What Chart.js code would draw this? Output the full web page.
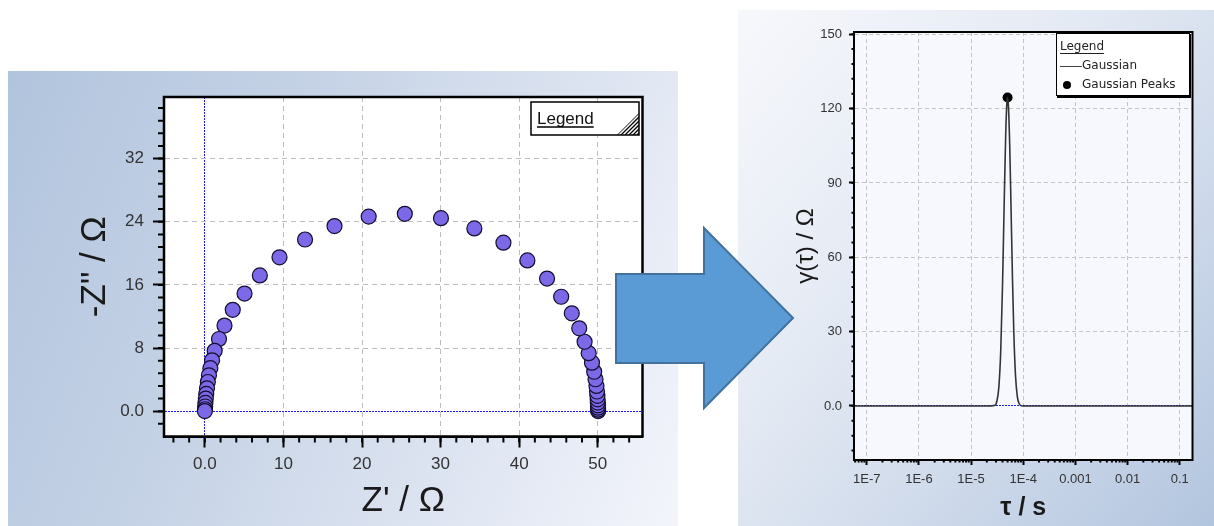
<!DOCTYPE html>
<html>
<head>
<meta charset="utf-8">
<title>Nyquist plot to DRT</title>
<script src="https://cdn.jsdelivr.net/npm/chart.js@4.4.1/dist/chart.umd.min.js"></script>
<style>
  html, body { margin: 0; padding: 0; background: #fff; }
  body { width: 1214px; height: 526px; position: relative; overflow: hidden; }
  .panel { position: absolute; }
  .panel canvas { display: block; }
  #leftPanel {
    left: 8px; top: 71px; width: 670px; height: 455px;
    background: linear-gradient(112deg, #b1c4dd 0%, #c6d3e6 38%, #dde4f1 70%, #f3f5fb 100%);
  }
  #rightPanel {
    left: 738px; top: 10px; width: 476px; height: 516px;
    background: linear-gradient(130deg, #f7f8fc 0%, #e3e9f3 40%, #c8d5e8 75%, #b2c5de 100%);
  }
  #arrow { position: absolute; left: 0; top: 0; pointer-events: none; }
</style>
</head>
<body>
<div class="panel" id="leftPanel"><canvas id="nyquist" width="670" height="455"></canvas></div>
<div class="panel" id="rightPanel"><canvas id="drt" width="476" height="516"></canvas></div>
<svg id="arrow" width="1214" height="526">
  <polygon points="616,274 704,274 704,228 793,318 704,408 704,363 616,363"
           fill="#5b9bd5" stroke="#41719c" stroke-width="2" stroke-linejoin="miter"/>
</svg>
<script>
// ---- Nyquist plot (left) ----
const zReal = [50.05, 50.05, 50.04, 50.03, 50.01, 49.99, 49.96, 49.91, 49.84, 49.72, 49.55, 49.27, 48.85, 48.33, 47.65, 46.7,
  45.35, 43.55, 41.05, 38.0, 34.3, 30.05, 25.45, 20.85, 16.5, 12.75, 9.5, 7.0, 5.05, 3.55, 2.5, 1.8, 1.25, 0.92,
  0.7, 0.52, 0.38, 0.27, 0.18, 0.12, 0.07, 0.04, 0.02, 0.0];
const zImag = [0.02, 0.2, 0.45, 0.75, 1.1, 1.5, 1.95, 2.5, 3.2, 4.05, 5.0, 6.15, 7.35, 8.8, 10.5, 12.4,
  14.5, 16.8, 19.1, 21.35, 23.15, 24.45, 25.0, 24.65, 23.45, 21.75, 19.5, 17.2, 14.9, 12.85, 10.85, 9.15, 7.65, 6.45,
  5.45, 4.55, 3.7, 2.9, 2.2, 1.6, 1.05, 0.6, 0.25, 0.02];
const zReTicks = [0, 10, 20, 30, 40, 50];
const zReLabels = ['0.0', '10', '20', '30', '40', '50'];
const zImTicks = [0, 8, 16, 24, 32];
const zImLabels = ['0.0', '8', '16', '24', '32'];

// ---- DRT (right) ----
const tau = [5e-8, 2.0e-5, 2.8e-5, 3.1e-5, 3.4e-5, 3.7e-5, 4.0e-5, 4.3e-5, 4.6e-5, 4.85e-5, 5.0e-5, 5.2e-5,
  5.5e-5, 5.8e-5, 6.2e-5, 6.6e-5, 7.1e-5, 7.7e-5, 8.4e-5, 9.5e-5, 1.3e-4, 0.2];
const gamma = [0, 0, 0.2, 1.7, 7.5, 22.4, 48.5, 81, 109.2, 122.3, 124.5, 120.9,
  104.8, 82.1, 51.9, 29.0, 12.2, 3.7, 0.8, 0, 0, 0];
const peakTau = [5.0e-5];
const peakGamma = [124.5];
const tauTicks = [1e-7, 1e-6, 1e-5, 1e-4, 1e-3, 1e-2, 1e-1];
const tauLabels = ['1E-7', '1E-6', '1E-5', '1E-4', '0.001', '0.01', '0.1'];
const gammaTicks = [0, 30, 60, 90, 120, 150];
const gammaLabels = ['0.0', '30', '60', '90', '120', '150'];

Chart.defaults.font.family = "'Liberation Sans', Arial, sans-serif";
Chart.defaults.animation = false;

function steps(from, to, step) {
  const out = [];
  for (let v = from; v <= to + 1e-9; v += step) out.push(+v.toFixed(4));
  return out;
}
const logMinor = [];
for (let e = -8; e <= -1; e++) for (let k = 2; k <= 9; k++) logMinor.push(k * Math.pow(10, e));

function drawMinor(ctx, scale, values, len, width) {
  const a = scale.chart.chartArea;
  ctx.save();
  ctx.strokeStyle = '#000';
  ctx.lineWidth = width;
  ctx.beginPath();
  values.forEach(v => {
    if (v < scale.min || v > scale.max) return;
    const p = scale.getPixelForValue(v);
    if (scale.isHorizontal()) { ctx.moveTo(p, a.bottom); ctx.lineTo(p, a.bottom + len); }
    else { ctx.moveTo(a.left, p); ctx.lineTo(a.left - len, p); }
  });
  ctx.stroke();
  ctx.restore();
}

// plot background, frame and minor ticks
function makeFrame(cfg) {
  return {
    id: 'frame',
    beforeDraw(chart) {
      const a = chart.chartArea, ctx = chart.ctx;
      ctx.save();
      ctx.fillStyle = cfg.bg;
      ctx.fillRect(a.left, a.top, a.right - a.left, a.bottom - a.top);
      ctx.restore();
    },
    afterDraw(chart) {
      const a = chart.chartArea, ctx = chart.ctx;
      drawMinor(ctx, chart.scales.x, cfg.minorX, cfg.minorLen, cfg.minorWidth);
      drawMinor(ctx, chart.scales.y, cfg.minorY, cfg.minorLen, cfg.minorWidth);
      ctx.save();
      ctx.strokeStyle = '#000';
      ctx.lineWidth = cfg.frameWidth;
      ctx.strokeRect(a.left, a.top, a.right - a.left, a.bottom - a.top);
      ctx.restore();
      cfg.legend(ctx, chart);
    }
  };
}

// zero lines are blue and dotted, the rest grey dashed
function gridColor(ctx) {
  return ctx.tick && ctx.tick.value === 0 ? '#1a1aff' : '#bcbcbc';
}
function gridDash(ctx) {
  return ctx.tick && ctx.tick.value === 0 ? [2, 1] : [5, 4];
}

// left legend box with hatched corner
function nyquistLegend(ctx) {
  ctx.save();
  ctx.fillStyle = '#fff';
  ctx.fillRect(523, 31, 108, 33);
  ctx.strokeStyle = '#000';
  ctx.lineWidth = 1.5;
  ctx.strokeRect(523, 31, 108, 33);
  ctx.fillStyle = '#111';
  ctx.font = "17px 'Liberation Sans', Arial, sans-serif";
  ctx.textBaseline = 'middle';
  ctx.fillText('Legend', 529, 48);
  const w = ctx.measureText('Legend').width;
  ctx.lineWidth = 1.5;
  ctx.beginPath(); ctx.moveTo(529, 56); ctx.lineTo(529 + w, 56); ctx.stroke();
  ctx.beginPath();
  ctx.moveTo(609, 64); ctx.lineTo(631, 64); ctx.lineTo(631, 42); ctx.closePath();
  ctx.save(); ctx.clip();
  ctx.lineWidth = 1.3;
  ctx.beginPath();
  for (let k = 0; k < 8; k++) { ctx.moveTo(607 + k * 4, 66); ctx.lineTo(633, 40 + k * 4); }
  ctx.stroke();
  ctx.restore();
  ctx.restore();
}

// right legend box
function drtLegend(ctx, chart) {
  const ds = chart.data.datasets;
  ctx.save();
  ctx.fillStyle = '#fff';
  ctx.fillRect(318, 23, 134, 63);
  ctx.strokeStyle = '#000';
  ctx.lineWidth = 1;
  ctx.strokeRect(318.5, 23.5, 133, 62);
  ctx.lineWidth = 2;
  ctx.beginPath(); ctx.moveTo(452, 24); ctx.lineTo(452, 87); ctx.lineTo(319, 87); ctx.stroke();
  ctx.fillStyle = '#222';
  ctx.font = "12px 'DejaVu Sans', sans-serif";
  ctx.textBaseline = 'middle';
  ctx.fillText('Legend', 322, 37);
  const w = ctx.measureText('Legend').width;
  ctx.lineWidth = 1;
  ctx.strokeStyle = '#222';
  ctx.beginPath(); ctx.moveTo(322, 43.5); ctx.lineTo(322 + w, 43.5); ctx.stroke();
  ctx.strokeStyle = '#444';
  ctx.beginPath(); ctx.moveTo(322, 56.5); ctx.lineTo(344, 56.5); ctx.stroke();
  ctx.fillText(ds[0].label, 344, 56);
  ctx.fillStyle = '#000';
  ctx.beginPath(); ctx.arc(329, 75, 4, 0, Math.PI * 2); ctx.fill();
  ctx.fillStyle = '#222';
  ctx.fillText(ds[1].label, 344, 75);
  ctx.restore();
}

new Chart(document.getElementById('nyquist'), {
  type: 'scatter',
  data: {
    datasets: [{
      label: 'Data',
      data: zReal.map((x, i) => ({ x: x, y: zImag[i] })),
      pointRadius: 7.5,
      pointBackgroundColor: '#7b69e8',
      pointBorderColor: '#140e30',
      pointBorderWidth: 1.2
    }]
  },
  options: {
    responsive: false,
    layout: { padding: { left: 0, top: 26, right: 35.5, bottom: 0 } },
    plugins: { legend: { display: false }, tooltip: { enabled: false } },
    scales: {
      x: {
        type: 'linear',
        min: -5.2,
        max: 55.7,
        afterBuildTicks: s => { s.ticks = zReTicks.map(v => ({ value: v })); },
        afterFit: s => { s.height = 89.5; },
        ticks: {
          callback: (v, i) => zReLabels[i],
          font: { size: 17 },
          color: '#333',
          padding: 7,
          maxRotation: 0,
          autoSkip: false
        },
        grid: { color: gridColor, lineWidth: 1, tickLength: 11, tickWidth: 2, tickColor: '#000' },
        border: { display: true, color: '#000', width: 2, dash: gridDash },
        title: { display: true, text: "Z' / Ω", font: { size: 35 }, color: '#1a1a1a', padding: { top: 0, bottom: 4 } }
      },
      y: {
        type: 'linear',
        min: -3.2,
        max: 39.8,
        afterBuildTicks: s => { s.ticks = zImTicks.map(v => ({ value: v })); },
        afterFit: s => { s.width = 156; },
        ticks: {
          callback: (v, i) => zImLabels[i],
          font: { size: 17 },
          color: '#333',
          padding: 9,
          autoSkip: false
        },
        grid: { color: gridColor, lineWidth: 1, tickLength: 11, tickWidth: 2, tickColor: '#000' },
        border: { display: true, color: '#000', width: 2, dash: gridDash },
        title: { display: true, text: '-Z" / Ω', font: { size: 35 }, color: '#1a1a1a', padding: { top: 66, bottom: 0 } }
      }
    }
  },
  plugins: [makeFrame({
    bg: '#ffffff',
    minorX: steps(-4, 54, 2),
    minorY: steps(-1.6, 38.4, 1.6),
    minorLen: 6,
    minorWidth: 2,
    frameWidth: 2.5,
    legend: nyquistLegend
  })]
});

new Chart(document.getElementById('drt'), {
  type: 'scatter',
  data: {
    datasets: [{
      label: 'Gaussian',
      data: tau.map((t, i) => ({ x: t, y: gamma[i] })),
      showLine: true,
      pointRadius: 0,
      borderColor: '#333',
      borderWidth: 1.6,
      cubicInterpolationMode: 'monotone'
    }, {
      label: 'Gaussian Peaks',
      data: peakTau.map((t, i) => ({ x: t, y: peakGamma[i] })),
      pointRadius: 5,
      pointBackgroundColor: '#000',
      pointBorderColor: '#000',
      pointBorderWidth: 0
    }]
  },
  options: {
    responsive: false,
    layout: { padding: { left: 0, top: 22, right: 21.5, bottom: 0 } },
    plugins: { legend: { display: false }, tooltip: { enabled: false } },
    scales: {
      x: {
        type: 'logarithmic',
        min: 5.7e-8,
        max: 0.175,
        afterBuildTicks: s => { s.ticks = tauTicks.map(v => ({ value: v })); },
        afterFit: s => { s.height = 66; },
        ticks: {
          callback: (v, i) => tauLabels[i],
          font: { size: 13 },
          color: '#333',
          padding: 7,
          maxRotation: 0,
          autoSkip: false
        },
        grid: { color: '#c4c4c4', lineWidth: 1, tickLength: 5, tickWidth: 2, tickColor: '#000' },
        border: { display: true, color: '#000', width: 2, dash: [4, 3] },
        title: { display: true, text: 'τ / s', font: { size: 25, weight: 'bold' }, color: '#1a1a1a', padding: { top: 0, bottom: 3 } }
      },
      y: {
        type: 'linear',
        min: -21.8,
        max: 150.9,
        afterBuildTicks: s => { s.ticks = gammaTicks.map(v => ({ value: v })); },
        afterFit: s => { s.width = 116; },
        ticks: {
          callback: (v, i) => gammaLabels[i],
          font: { size: 13 },
          color: '#333',
          padding: 7,
          autoSkip: false
        },
        grid: {
          color: ctx => ctx.tick && ctx.tick.value === 0 ? '#1a1aff' : '#c4c4c4',
          lineWidth: 1, tickLength: 5, tickWidth: 2, tickColor: '#000'
        },
        border: { display: true, color: '#000', width: 2, dash: ctx => ctx.tick && ctx.tick.value === 0 ? [2, 1] : [4, 3] },
        title: { display: true, text: 'γ(τ) / Ω', font: { size: 24 }, color: '#1a1a1a', padding: { top: 53.6, bottom: 0 } }
      }
    }
  },
  plugins: [makeFrame({
    bg: '#f7f8fd',
    minorX: logMinor,
    minorY: steps(-18, 150, 6),
    minorLen: 2.5,
    minorWidth: 2,
    frameWidth: 2,
    legend: drtLegend
  })]
});
</script>
</body>
</html>
